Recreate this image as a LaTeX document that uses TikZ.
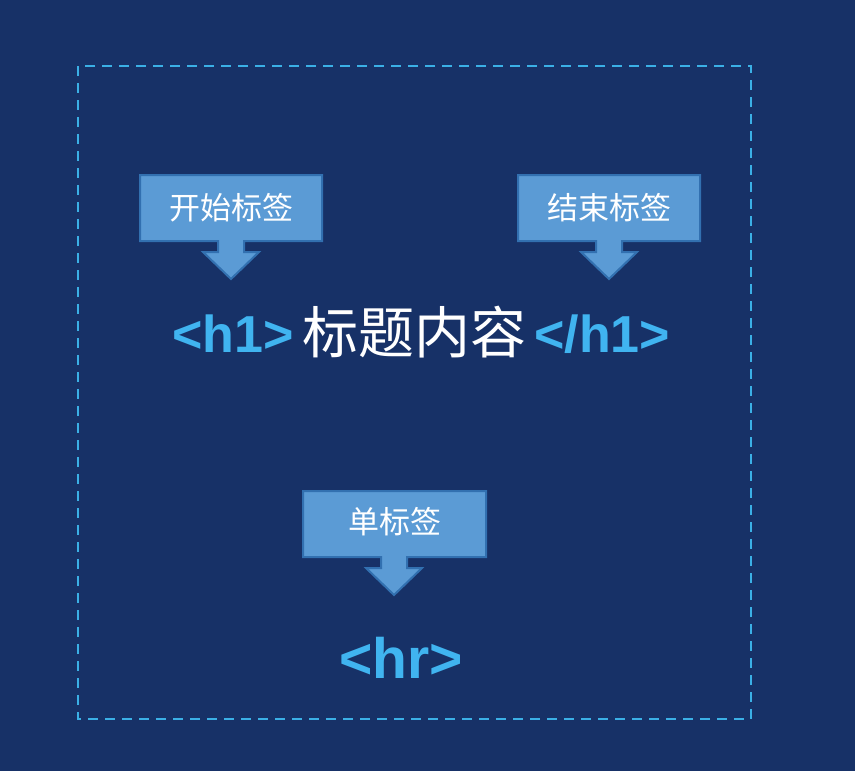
\documentclass[tikz,border=0pt]{standalone}
\usepackage{fontspec}
\newfontfamily\cjk{Noto Sans CJK SC}
\newfontfamily\latb{Liberation Sans}
\definecolor{bg}{RGB}{23,49,103}
\definecolor{dashc}{RGB}{59,176,230}
\definecolor{tagc}{RGB}{64,180,240}
\definecolor{boxfill}{RGB}{91,155,213}
\definecolor{boxline}{RGB}{50,112,176}
\tikzset{
  calloutbox/.style={fill=boxfill, draw=boxline, line width=2pt, line join=miter},
  calltext/.style={text=white, font=\cjk\fontsize{31}{34}\selectfont, inner sep=0pt},
  tagtext/.style={text=tagc, font=\latb\bfseries\fontsize{52}{56}\selectfont, inner sep=0pt, anchor=base},
  hrtext/.style={text=tagc, font=\latb\bfseries\fontsize{57}{60}\selectfont, inner sep=0pt, anchor=base},
  titletext/.style={text=white, font=\cjk\fontsize{56}{60}\selectfont, inner sep=0pt, anchor=base},
  frame/.style={draw=dashc, line width=2pt, dash pattern=on 10pt off 7pt}
}
\begin{document}
\begin{tikzpicture}[x=1pt,y=-1pt]
\fill[bg] (0,0) rectangle (855,771);
\useasboundingbox (0,0) rectangle (855,771);
\draw[frame] (78,66) rectangle (751,719);
% callout 1
\draw[calloutbox] (140,175) -- (322,175) -- (322,241) -- (244,241) -- (244,252) -- (259,252) -- (231,279) -- (203,252) -- (218,252) -- (218,241) -- (140,241) -- cycle;
\node[calltext] (start) at (231,208) {开始标签};
% callout 2
\draw[calloutbox] (518,175) -- (700,175) -- (700,241) -- (622,241) -- (622,252) -- (637,252) -- (609,279) -- (581,252) -- (596,252) -- (596,241) -- (518,241) -- cycle;
\node[calltext] (end) at (609,208) {结束标签};
% callout 3
\draw[calloutbox] (303,491) -- (486,491) -- (486,557) -- (407,557) -- (407,568) -- (422,568) -- (394,595) -- (366,568) -- (381,568) -- (381,557) -- (303,557) -- cycle;
\node[calltext] (single) at (394.5,522) {单标签};
% main line
\node[tagtext, anchor=base west] (open) at (172,352) {<h1>};
\node[titletext, anchor=base west] (title) at (302,353) {标题内容};
\node[tagtext, anchor=base west] (close) at (534,352) {</h1>};
\node[hrtext, anchor=base] (hr) at (401,678) {<hr>};
\end{tikzpicture}
\end{document}
